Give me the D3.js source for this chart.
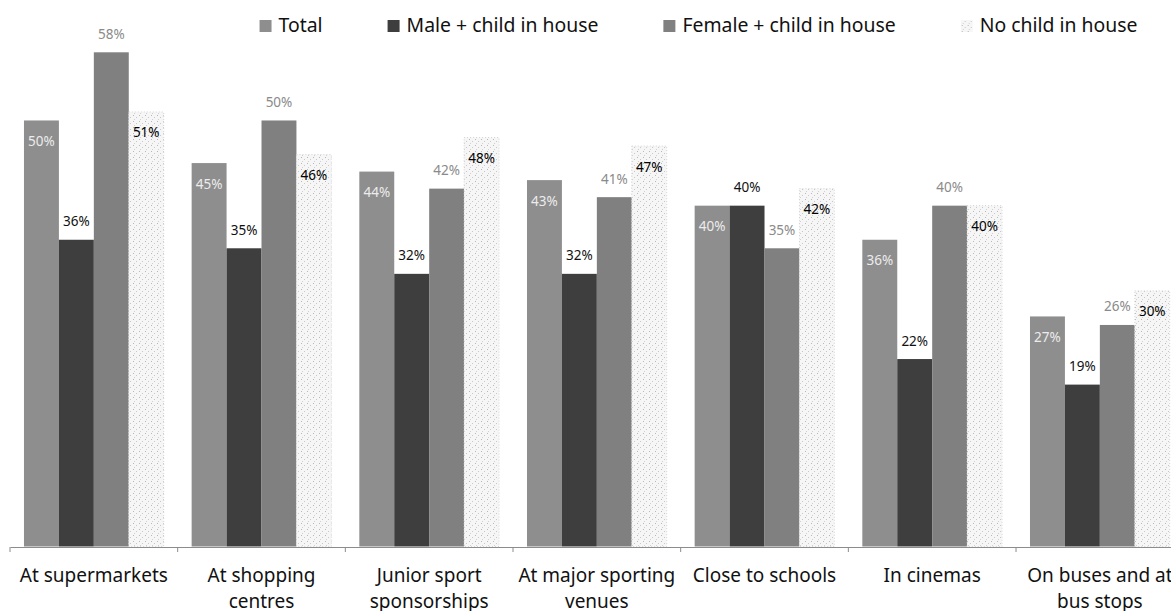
<!DOCTYPE html>
<html><head><meta charset="utf-8">
<script src="https://cdn.jsdelivr.net/npm/d3@7/dist/d3.min.js"></script>
<style>body{margin:0;background:#fff;} svg{display:block;font-family:'Noto Sans',sans-serif;}</style>
</head><body><svg id="c" width="1171" height="611"></svg>
<script>
const categories = ["At supermarkets","At shopping\ncentres","Junior sport\nsponsorships","At major sporting\nvenues","Close to schools","In cinemas","On buses and at\nbus stops"];
const seriesNames = ["Total","Male + child in house","Female + child in house","No child in house"];
const total   = [50,45,44,43,40,36,27];
const male    = [36,35,32,32,40,22,19];
const female  = [58,50,42,41,35,40,26];
const noChild = [51,46,48,47,42,40,30];

const seriesValues = [total, male, female, noChild];
const fills = ["#8e8e8e", "#3e3e3e", "#808080", "url(#dots)"];
const labelColors = ["#ececec", "#111", "#8a8a8a", "#000"];
const inside = [true, false, false, true];

const svg = d3.select("#c");
const defs = svg.append("defs");
const pat = defs.append("pattern").attr("id","dots").attr("patternUnits","userSpaceOnUse")
  .attr("width",6).attr("height",6);
pat.append("rect").attr("width",6).attr("height",6).attr("fill","#f6f6f6");
pat.append("rect").attr("x",1).attr("y",1).attr("width",1).attr("height",1).attr("fill","#b8b8b8");
pat.append("rect").attr("x",4).attr("y",3).attr("width",1).attr("height",1).attr("fill","#c8c8c8");
pat.append("rect").attr("x",2).attr("y",5).attr("width",1).attr("height",1).attr("fill","#d0d0d0");

const step = 167.67;
const x0 = d3.scaleBand().domain(categories).range([10, 10 + step * categories.length]).padding(0);
const x1 = d3.scaleBand().domain(seriesNames).range([0, x0.bandwidth()]).paddingInner(0).paddingOuter(0.4);
const y = d3.scaleLinear().domain([0, 58]).range([546.5, 52.3]);

const data = [];
categories.forEach((c, i) => seriesNames.forEach((s, j) => data.push({c, s, j, v: seriesValues[j][i]})));

const g = svg.append("g");
g.selectAll("rect.bar").data(data).join("rect").attr("class","bar")
  .attr("x", d => x0(d.c) + x1(d.s))
  .attr("y", d => y(d.v))
  .attr("width", x1.bandwidth())
  .attr("height", d => y(0) - y(d.v))
  .attr("fill", d => fills[d.j])
  .attr("stroke", d => d.j === 3 ? "#d4d4d4" : "none")
  .attr("stroke-dasharray", d => d.j === 3 ? "1,2" : null)
  .attr("stroke-width", 1);

g.selectAll("text.lbl").data(data).join("text").attr("class","lbl")
  .attr("x", d => x0(d.c) + x1(d.s) + x1.bandwidth() / 2)
  .attr("y", d => inside[d.j] ? y(d.v) + 25.5 : y(d.v) - 13.5)
  .attr("text-anchor","middle")
  .attr("font-size", 13.5)
  .attr("fill", d => labelColors[d.j])
  .text(d => d.v + "%");

// axis
const axisY = y(0) + 0.5;
const ax = svg.append("g").attr("transform", `translate(0,${axisY})`)
  .call(d3.axisBottom(x0).tickSize(0).tickSizeOuter(0).tickFormat(""));
ax.select(".domain").attr("stroke", "#8c8c8c");
ax.selectAll(".tick").remove();
svg.append("g").selectAll("line").data(categories).join("line")
  .attr("x1", d => x0(d)).attr("x2", d => x0(d))
  .attr("y1", axisY).attr("y2", axisY + 5)
  .attr("stroke", "#8c8c8c");

const cl = svg.append("g").selectAll("text").data(categories).join("text")
  .attr("x", d => x0(d) + x0.bandwidth() / 2)
  .attr("y", 582)
  .attr("text-anchor", "middle")
  .attr("font-size", 19)
  .attr("fill", "#111");
cl.each(function(d) {
  const t = d3.select(this);
  d.split("\n").forEach((line, k) => {
    t.append("tspan").attr("x", x0(d) + x0.bandwidth() / 2).attr("dy", k === 0 ? 0 : 26).text(line);
  });
});

// legend
const legFills = ["#8e8e8e", "#3e3e3e", "#808080", "url(#dots)"];
const leg = svg.append("g");
const items = leg.selectAll("g").data(seriesNames).join("g");
items.append("rect").attr("width", 12).attr("height", 12).attr("y", 20)
  .attr("fill", (d, i) => legFills[i]);
items.append("text").attr("x", 19).attr("y", 32).attr("font-size", 19.4).attr("fill", "#111").text(d => d);
let cx = 0;
const offsets = [];
items.each(function() {
  const w = d3.select(this).select("text").node().getComputedTextLength();
  offsets.push(cx);
  cx += 19 + w + 65;
});
const totalW = cx - 65;
const startX = 698.5 - totalW / 2;
items.attr("transform", (d, i) => `translate(${startX + offsets[i]},0)`);
</script></body></html>
